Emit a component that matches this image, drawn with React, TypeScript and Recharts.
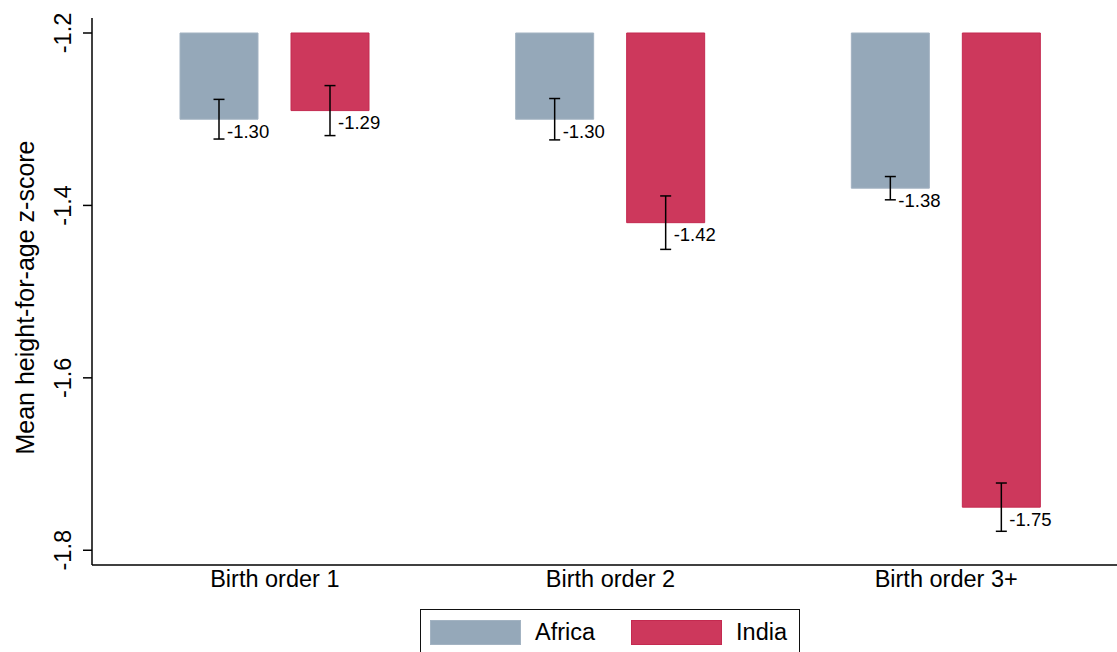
import { BarChart, Bar, XAxis, YAxis, ErrorBar, LabelList, Legend, Label } from 'recharts';

const FONT = '"Liberation Sans", Arial, Helvetica, sans-serif';

// Mean height-for-age z-score by birth order, with confidence intervals
const categories = ['Birth order 1', 'Birth order 2', 'Birth order 3+'];
const seriesNames = ['Africa', 'India'];
const africaMeans = [-1.30, -1.30, -1.38];
const indiaMeans = [-1.29, -1.42, -1.75];
const africaErrors = [0.023, 0.024, 0.0135];
const indiaErrors = [0.029, 0.031, 0.028];
const yTicks = [-1.2, -1.4, -1.6, -1.8];
const barBase = -1.2;

const AFRICA = '#95a8b9';
const INDIA = '#cd385c';

// bars hang down from -1.2, so each one is a [base, mean] range
const data = categories.map((name, i) => ({
    name,
    africa: [barBase, africaMeans[i]],
    india: [barBase, indiaMeans[i]],
    africaMean: africaMeans[i],
    indiaMean: indiaMeans[i],
    africaErr: africaErrors[i],
    indiaErr: indiaErrors[i],
}));

const YTick = ({ x, y, payload }: any) => (
    <text
        x={x}
        y={y}
        transform={`rotate(-90, ${x}, ${y})`}
        textAnchor="middle"
        fontSize={23.5}
        fontFamily={FONT}
        fill="#000"
    >
        {Number(payload.value).toFixed(1)}
    </text>
);

const XTick = ({ x, y, payload }: any) => (
    <text x={x} y={y} textAnchor="middle" fontSize={23.5} fontFamily={FONT} fill="#000">
        {payload.value}
    </text>
);

const YTitle = () => (
    <text
        x={33.5}
        y={297.5}
        transform="rotate(-90, 33.5, 297.5)"
        textAnchor="middle"
        fontSize={25}
        fontFamily={FONT}
        fill="#000"
    >
        Mean height-for-age z-score
    </text>
);

// value printed just below and right of the bar end
const renderValue = (props: any) => {
    const { x, y, width, height, value } = props;
    const end = Math.max(Number(y), Number(y) + Number(height));
    return (
        <text x={Number(x) + Number(width) / 2 + 8} y={end + 18.5} fontSize={18.5} fontFamily={FONT} fill="#000">
            {Number(value).toFixed(2)}
        </text>
    );
};

const renderLegend = (props: any) => (
    <div
        style={{
            boxSizing: 'border-box',
            width: 380,
            height: 50,
            border: '1.5px solid #111',
            background: '#fff',
            display: 'flex',
            alignItems: 'flex-start',
            padding: '9px 0 0 9px',
            fontFamily: FONT,
            fontSize: 23.5,
            color: '#000',
        }}
    >
        {(props.payload || []).map((entry: any, i: number) => (
            <div key={i} style={{ display: 'flex', alignItems: 'center', marginRight: 36 }}>
                <span
                    style={{
                        display: 'inline-block',
                        boxSizing: 'border-box',
                        width: 91,
                        height: 25,
                        background: entry.color,
                        border: `1px solid ${i === 0 ? '#a3b3c2' : '#c42a50'}`,
                        marginRight: 14,
                    }}
                />
                <span>{entry.value}</span>
            </div>
        ))}
    </div>
);

export default function App() {
    return (
        <div style={{ position: 'absolute', left: 0, top: 0, width: 1117, height: 652, overflow: 'hidden', background: '#fff' }}>
            <BarChart
                width={1140}
                height={652}
                data={data}
                margin={{ top: 18, right: 11, bottom: 57, left: 0 }}
                barSize={78}
                barGap={33}
            >
                <XAxis
                    dataKey="name"
                    height={30}
                    padding={{ left: 15, right: 15 }}
                    axisLine={{ stroke: '#000', strokeWidth: 1.5 }}
                    tickLine={false}
                    tickSize={0}
                    tickMargin={22}
                    tick={<XTick />}
                    interval={0}
                />
                <XAxis
                    xAxisId="top"
                    orientation="top"
                    dataKey="name"
                    height={0}
                    tick={false}
                    tickLine={false}
                    axisLine={{ stroke: '#000', strokeWidth: 1.5 }}
                />
                <YAxis
                    type="number"
                    width={92}
                    domain={[-1.8171, -1.1826]}
                    ticks={yTicks}
                    allowDataOverflow
                    tickSize={9}
                    tickMargin={12}
                    axisLine={{ stroke: '#000', strokeWidth: 1.5 }}
                    tickLine={{ stroke: '#000', strokeWidth: 1.5 }}
                    tick={<YTick />}
                >
                    <Label content={<YTitle />} />
                </YAxis>
                <Legend
                    layout="vertical"
                    align="center"
                    verticalAlign="middle"
                    content={renderLegend}
                    wrapperStyle={{ left: 420, top: 608.5, width: 380, height: 50 }}
                />
                <Bar dataKey="africa" name={seriesNames[0]} fill={AFRICA} stroke="#a3b3c2" strokeWidth={1} isAnimationActive={false}>
                    <ErrorBar dataKey="africaErr" direction="y" width={5.5} stroke="#000" strokeWidth={1.5} />
                    <LabelList dataKey="africaMean" content={renderValue} />
                </Bar>
                <Bar dataKey="india" name={seriesNames[1]} fill={INDIA} stroke="#c42a50" strokeWidth={1} isAnimationActive={false}>
                    <ErrorBar dataKey="indiaErr" direction="y" width={5.5} stroke="#000" strokeWidth={1.5} />
                    <LabelList dataKey="indiaMean" content={renderValue} />
                </Bar>
            </BarChart>
        </div>
    );
}
